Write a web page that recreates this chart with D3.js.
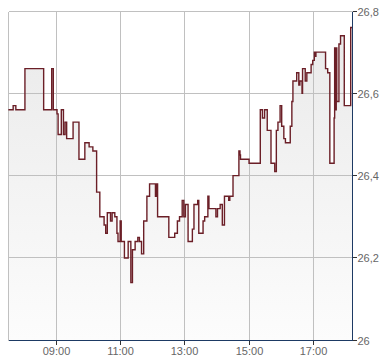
<!DOCTYPE html>
<html><head><meta charset="utf-8">
<script src="https://cdn.jsdelivr.net/npm/d3@7"></script>
<style>body{margin:0;background:#fff}svg{display:block}text{font-family:"Liberation Sans",Arial,sans-serif;font-size:11px;fill:#666}</style>
</head><body><svg id="c" width="390" height="364"></svg>
<script>
const times = ["07:30","07:39","07:44","08:01","08:36","08:51","08:54","09:01","09:03","09:09","09:13","09:16","09:19","09:31","09:42","09:53","10:01","10:08","10:15","10:21","10:29","10:32","10:35","10:41","10:44","10:49","10:53","10:55","10:59","11:01","11:07","11:14","11:19","11:22","11:27","11:32","11:35","11:39","11:43","11:49","11:54","12:05","12:07","12:09","12:30","12:41","12:46","12:50","12:55","12:58","13:01","13:06","13:14","13:17","13:24","13:26","13:34","13:37","13:43","13:45","13:58","14:01","14:06","14:10","14:14","14:22","14:24","14:30","14:41","14:43","14:44","15:00","15:21","15:25","15:29","15:34","15:41","15:48","15:51","15:54","15:58","16:01","16:05","16:08","16:17","16:20","16:22","16:29","16:33","16:35","16:39","16:40","16:45","16:48","16:56","16:59","17:02","17:03","17:05","17:23","17:27","17:31","17:39","17:40","17:41","17:43","17:44","17:48","17:51","17:58","18:10","18:13"];
const prices = [26.56,26.57,26.56,26.66,26.56,26.66,26.56,26.55,26.50,26.56,26.50,26.53,26.49,26.53,26.44,26.48,26.47,26.46,26.36,26.30,26.28,26.26,26.31,26.29,26.31,26.30,26.26,26.24,26.29,26.24,26.20,26.24,26.14,26.22,26.24,26.25,26.24,26.21,26.29,26.35,26.38,26.35,26.38,26.30,26.25,26.26,26.29,26.30,26.34,26.30,26.33,26.24,26.27,26.33,26.34,26.26,26.29,26.30,26.35,26.32,26.30,26.32,26.33,26.28,26.35,26.34,26.35,26.40,26.46,26.45,26.44,26.43,26.56,26.54,26.56,26.51,26.43,26.41,26.51,26.53,26.57,26.52,26.49,26.48,26.52,26.58,26.63,26.65,26.62,26.63,26.60,26.66,26.63,26.65,26.67,26.68,26.70,26.69,26.70,26.66,26.65,26.43,26.54,26.71,26.56,26.71,26.58,26.72,26.74,26.57,26.76,26.76];
const yTicks = [26, 26.2, 26.4, 26.6, 26.8];
const xTickLabels = ["09:00","11:00","13:00","15:00","17:00"];
const domainTimes = ["07:30","18:13"];

const toMin = s => { const [h,m] = s.split(":").map(Number); return h*60+m; };
const data = times.map((t,i)=>({t:toMin(t), v:prices[i]}));

const svg = d3.select("#c");
const L=8.35, R=352.3, T=11, B=340.3;
const x = d3.scaleLinear().domain(domainTimes.map(toMin)).range([L,R]);
const y = d3.scaleLinear().domain([26,26.8]).range([B,T]);
const px = v => Math.floor(v)+0.5;

const defs = svg.append("defs");
const g = defs.append("linearGradient").attr("id","fillg").attr("gradientUnits","userSpaceOnUse")
  .attr("x1",0).attr("x2",0).attr("y1",T).attr("y2",B);
g.append("stop").attr("offset",0).attr("stop-color","#e9e9e9");
g.append("stop").attr("offset",1).attr("stop-color","#fcfcfc");

// area
svg.append("path").datum(data)
  .attr("fill","url(#fillg)")
  .attr("d", d3.area().curve(d3.curveStepAfter).x(d=>x(d.t)).y0(B).y1(d=>y(d.v)));

// grid
const grid = svg.append("g").attr("stroke","#c0c0c0").attr("stroke-width",1).attr("shape-rendering","crispEdges");
yTicks.forEach(v=>grid.append("line").attr("x1",px(L)).attr("x2",px(R)).attr("y1",px(y(v))).attr("y2",px(y(v))));
xTickLabels.forEach(s=>grid.append("line").attr("x1",px(x(toMin(s)))).attr("x2",px(x(toMin(s)))).attr("y1",px(T)).attr("y2",px(B)));
grid.append("line").attr("x1",px(L)).attr("x2",px(L)).attr("y1",px(T)).attr("y2",px(B));

// line
svg.append("path").datum(data)
  .attr("fill","none").attr("stroke","#6b1f27").attr("stroke-width",1.4)
  .attr("d", d3.line().curve(d3.curveStepAfter).x(d=>x(d.t)).y(d=>y(d.v)));

// axes
const navy = "#1d3a64";
const ax = svg.append("g").attr("shape-rendering","crispEdges");
ax.append("line").attr("x1",px(L)).attr("x2",px(R)+0.5).attr("y1",px(B)).attr("y2",px(B)).attr("stroke",navy);
ax.append("line").attr("x1",px(R)).attr("x2",px(R)).attr("y1",px(T)).attr("y2",px(B)).attr("stroke",navy);
yTicks.forEach(v=>{
  const yy = px(y(v));
  ax.append("line").attr("x1",px(R)).attr("x2",px(R)+4).attr("y1",yy).attr("y2",yy).attr("stroke","#333");
  svg.append("text").attr("x",357.5).attr("y",yy+4).text(d3.format(".1f")(v).replace(/\.0$/,"").replace(".",","));
});
xTickLabels.forEach(s=>{
  const xx = px(x(toMin(s)));
  ax.append("line").attr("x1",xx).attr("x2",xx).attr("y1",px(B)).attr("y2",px(B)+4).attr("stroke","#333");
  svg.append("text").attr("x",xx).attr("y",355).attr("text-anchor","middle").text(s);
});
</script></body></html>
